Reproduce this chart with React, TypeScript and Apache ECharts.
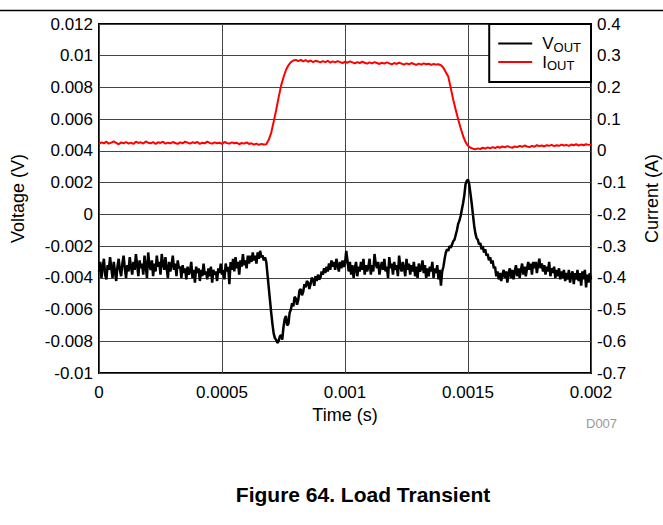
import React, { useEffect, useRef } from "react";
import * as echarts from "echarts";

// Sampling steps of the scope traces (s)
const VOUT_STEP = 0.000005;
const IOUT_STEP = 0.00001;

// Output voltage, in mV, one value per VOUT_STEP from 0 to 0.002 s
const voutMv = [
  -3.6, -3.0, -4.0, -3.3, -2.8, -3.8, -4.1, -3.2, -3.5, -2.7,
  -3.4, -4.0, -3.0, -3.6, -4.2, -3.3, -2.8, -3.5, -3.9, -3.1,
  -2.6, -3.4, -4.0, -3.2, -3.6, -2.7, -3.3, -3.8, -3.0, -3.5,
  -2.5, -3.2, -3.9, -2.9, -3.4, -3.1, -3.8, -2.6, -3.3, -4.0,
  -2.4, -3.2, -3.5, -2.9, -3.9, -3.1, -3.6, -2.6, -3.3, -3.0,
  -3.8, -2.5, -3.1, -3.5, -2.7, -3.4, -4.0, -3.0, -3.6, -3.2,
  -2.6, -3.5, -3.1, -3.9, -2.9, -3.4, -3.3, -4.0, -3.2, -3.7,
  -3.4, -4.1, -3.3, -3.8, -3.6, -3.0, -4.0, -3.5, -4.3, -3.3,
  -3.7, -3.4, -4.2, -3.5, -3.9, -3.1, -3.8, -3.6, -4.1, -3.4,
  -3.9, -3.3, -4.3, -3.5, -3.8, -3.6, -4.2, -3.4, -3.7, -3.1,
  -3.8, -3.5, -4.1, -3.1, -3.6, -3.3, -4.4, -3.0, -3.5, -2.8,
  -3.6, -2.7, -3.4, -3.0, -3.8, -2.9, -3.3, -2.5, -3.2, -2.9,
  -3.4, -2.6, -3.1, -2.6, -3.0, -2.4, -2.9, -2.6, -3.1, -2.4,
  -2.8, -2.3, -2.7, -2.6, -2.9, -2.7, -3.0, -3.8, -4.6, -5.4,
  -6.2, -6.9, -7.5, -7.8, -7.9, -8.1, -8.0, -7.7, -7.6, -7.9,
  -7.1, -6.6, -6.4, -7.0, -6.9, -6.2, -6.0, -5.6, -5.8, -5.2,
  -5.3, -5.7, -5.4, -4.8, -4.7, -5.1, -4.9, -4.4, -4.6, -4.2,
  -4.3, -4.7, -4.4, -4.0, -4.1, -4.5, -3.9, -4.2, -3.8, -4.1,
  -4.0, -3.6, -3.8, -3.4, -3.7, -3.3, -3.6, -3.1, -3.5, -2.9,
  -3.3, -3.0, -3.5, -2.8, -3.2, -3.6, -3.0, -3.4, -2.9, -3.3,
  -3.1, -2.3, -2.9, -3.6, -3.0, -3.8, -3.2, -4.0, -3.4, -3.0,
  -3.9, -3.3, -3.6, -3.0, -3.5, -2.8, -3.8, -3.2, -3.6, -3.3,
  -2.8, -3.8, -3.2, -3.6, -2.5, -3.1, -3.4, -3.0, -3.8, -3.3,
  -3.0, -3.5, -2.8, -3.6, -3.3, -4.0, -2.7, -3.4, -3.1, -3.8,
  -3.0, -3.5, -3.2, -3.9, -2.6, -3.3, -3.6, -3.0, -3.4, -3.9,
  -2.8, -3.5, -3.1, -3.8, -3.2, -3.6, -3.0, -3.9, -3.3, -4.0,
  -3.1, -3.6, -3.4, -2.9, -3.7, -3.2, -4.0, -3.4, -3.9, -3.3,
  -3.6, -3.0, -4.0, -3.4, -3.7, -3.2, -4.1, -3.5, -4.5, -3.6,
  -3.3, -2.8, -2.4, -2.2, -2.3, -2.0, -2.1, -1.9, -1.7, -1.6,
  -1.3, -1.0, -0.6, -0.4, -0.1, 0.3, 0.7, 1.2, 1.9, 2.1,
  2.2, 1.9, 1.3, 0.7, 0.0, -0.7, -1.2, -1.5, -1.6, -1.9,
  -1.8, -2.2, -2.0, -2.4, -2.2, -2.6, -2.5, -2.9, -2.7, -3.1,
  -2.9, -3.4, -3.3, -3.9, -3.6, -4.1, -3.7, -4.2, -3.8, -3.5,
  -4.0, -3.6, -4.3, -3.7, -3.4, -4.0, -3.5, -4.1, -3.6, -3.2,
  -3.9, -3.4, -4.0, -3.5, -3.1, -3.8, -3.3, -3.9, -3.4, -3.0,
  -3.5, -3.1, -3.8, -3.0, -3.4, -3.0, -3.7, -3.2, -2.8, -3.4,
  -3.1, -3.6, -3.2, -3.8, -3.3, -3.6, -3.0, -3.9, -3.4, -3.7,
  -3.3, -4.0, -3.5, -3.9, -3.4, -4.1, -3.6, -4.0, -3.5, -4.2,
  -3.7, -4.1, -3.5, -4.3, -3.8, -3.6, -4.4, -3.7, -4.1, -3.5,
  -4.2, -3.7, -4.5, -3.6, -4.1, -3.5, -4.6, -3.8, -4.3, -3.7,
  -4.1,
];

// Output current, in A, one value per IOUT_STEP from 0 to 0.002 s
const ioutA = [
  0.022, 0.027, 0.024, 0.029, 0.023, 0.026, 0.030, 0.025, 0.021, 0.027,
  0.024, 0.028, 0.023, 0.026, 0.022, 0.029, 0.025, 0.027, 0.023, 0.030,
  0.026, 0.024, 0.028, 0.022, 0.027, 0.025, 0.029, 0.023, 0.026, 0.024,
  0.028, 0.025, 0.022, 0.027, 0.024, 0.029, 0.026, 0.023, 0.027, 0.025,
  0.028, 0.022, 0.026, 0.024, 0.029, 0.025, 0.023, 0.027, 0.024, 0.026,
  0.022, 0.028, 0.025, 0.023, 0.027, 0.024, 0.026, 0.021, 0.025, 0.023,
  0.027, 0.022, 0.024, 0.020, 0.023, 0.019, 0.022, 0.020, 0.021, 0.035,
  0.057, 0.092, 0.128, 0.168, 0.205, 0.232, 0.255, 0.270, 0.280, 0.285,
  0.287, 0.283, 0.287, 0.282, 0.286, 0.281, 0.285, 0.280, 0.284, 0.282,
  0.279, 0.283, 0.280, 0.284, 0.278, 0.282, 0.279, 0.283, 0.280, 0.277,
  0.281, 0.278, 0.282, 0.279, 0.276, 0.280, 0.277, 0.281, 0.278, 0.275,
  0.279, 0.276, 0.280, 0.277, 0.274, 0.278, 0.275, 0.279, 0.276, 0.273,
  0.277, 0.274, 0.278, 0.275, 0.272, 0.276, 0.273, 0.277, 0.274, 0.271,
  0.275, 0.272, 0.276, 0.273, 0.275, 0.271, 0.274, 0.272, 0.273, 0.270,
  0.262, 0.248, 0.234, 0.198, 0.161, 0.130, 0.100, 0.072, 0.047, 0.028,
  0.016, 0.010, 0.007, 0.005, 0.008, 0.006, 0.010, 0.007, 0.011, 0.008,
  0.012, 0.009, 0.013, 0.010, 0.014, 0.011, 0.015, 0.012, 0.010, 0.014,
  0.012, 0.016, 0.013, 0.017, 0.014, 0.012, 0.016, 0.013, 0.018, 0.015,
  0.017, 0.014, 0.018, 0.016, 0.019, 0.015, 0.018, 0.016, 0.020, 0.017,
  0.019, 0.016, 0.020, 0.018, 0.021, 0.017, 0.020, 0.018, 0.021, 0.019,
  0.020,
];

// Axis ranges and ticks
const timeAxis = { min: 0, max: 0.002, interval: 0.0005 };
const voltageAxis = { min: -0.01, max: 0.012, interval: 0.002 };
const currentAxis = { min: -0.7, max: 0.4, interval: 0.1 };

const seriesNames = ["VOUT", "IOUT"];
const caption = "Figure 64. Load Transient";
const docId = "D007";

const FONT = "'Liberation Sans', Arial, Helvetica, sans-serif";

const fmt = (v: number) => String(parseFloat(v.toFixed(6)));

export default function App() {
  const ref = useRef<HTMLDivElement>(null);

  useEffect(() => {
    if (!ref.current) return;
    const chart = echarts.init(ref.current, undefined, { renderer: "svg" });

    const voutData = voutMv.map((v, i) => [i * VOUT_STEP, v / 1000]);
    const ioutData = ioutA.map((v, i) => [i * IOUT_STEP, v]);

    const labelStyle = { color: "#000", fontSize: 17, fontFamily: FONT };
    const nameStyle = { color: "#000", fontSize: 18, fontFamily: FONT };
    const gridLine = { show: true, lineStyle: { color: "#444", width: 1 } };

    chart.setOption({
      animation: false,
      backgroundColor: "#fff",
      textStyle: { fontFamily: FONT },
      grid: {
        left: 99,
        right: 72,
        top: 24,
        bottom: 152,
        containLabel: false,
        outerBoundsMode: "none",
        show: true,
        borderColor: "#000",
        borderWidth: 2,
        backgroundColor: "transparent",
      },
      legend: {
        data: seriesNames,
        right: 72,
        top: 24,
        orient: "vertical",
        icon: "rect",
        itemWidth: 34,
        itemHeight: 2,
        itemGap: 0,
        padding: [11, 10, 10, 9],
        backgroundColor: "#fff",
        borderColor: "#000",
        borderWidth: 2,
        borderRadius: 0,
        formatter: (name: string) => `{m|${name.charAt(0)}}{s|${name.slice(1)}}`,
        textStyle: {
          color: "#000",
          fontFamily: FONT,
          rich: {
            m: { fontSize: 17, lineHeight: 20, verticalAlign: "middle", fontFamily: FONT, color: "#000", padding: [0, 0, 0, 5] },
            s: { fontSize: 13, lineHeight: 15, verticalAlign: "bottom", fontFamily: FONT, color: "#000" },
          },
        },
        z: 10,
      },
      xAxis: {
        type: "value",
        min: timeAxis.min,
        max: timeAxis.max,
        interval: timeAxis.interval,
        name: "Time (s)",
        nameLocation: "middle",
        nameGap: 31,
        nameTextStyle: nameStyle,
        axisLine: { show: false },
        axisTick: { show: false },
        axisLabel: { ...labelStyle, margin: 11, formatter: fmt },
        splitLine: gridLine,
      },
      yAxis: [
        {
          type: "value",
          position: "left",
          min: voltageAxis.min,
          max: voltageAxis.max,
          interval: voltageAxis.interval,
          name: "Voltage (V)",
          nameLocation: "middle",
          nameGap: 72,
          nameRotate: 90,
          nameTextStyle: nameStyle,
          axisLine: { show: false },
          axisTick: { show: false },
          axisLabel: { ...labelStyle, margin: 6, formatter: fmt },
          splitLine: gridLine,
        },
        {
          type: "value",
          position: "right",
          min: currentAxis.min,
          max: currentAxis.max,
          interval: currentAxis.interval,
          name: "Current (A)",
          nameLocation: "middle",
          nameGap: 52,
          nameRotate: 90,
          nameTextStyle: nameStyle,
          axisLine: { show: false },
          axisTick: { show: false },
          axisLabel: { ...labelStyle, margin: 6, formatter: fmt },
          splitLine: { show: false },
        },
      ],
      series: [
        {
          name: seriesNames[0],
          type: "line",
          yAxisIndex: 0,
          data: voutData,
          showSymbol: false,
          symbol: "none",
          lineStyle: { color: "#000", width: 2.5 },
          itemStyle: { color: "#000" },
          z: 3,
        },
        {
          name: seriesNames[1],
          type: "line",
          yAxisIndex: 1,
          data: ioutData,
          showSymbol: false,
          symbol: "none",
          lineStyle: { color: "#ff0000", width: 2 },
          itemStyle: { color: "#ff0000" },
          z: 2,
        },
      ],
      graphic: [
        {
          type: "line",
          shape: { x1: 0, y1: 10.5, x2: 663, y2: 10.5 },
          style: { stroke: "#000", lineWidth: 1.5 },
        },
        {
          type: "text",
          x: 586,
          y: 423,
          style: {
            text: docId,
            fill: "#999",
            fontSize: 13,
            fontFamily: FONT,
            verticalAlign: "middle",
          },
        },
        {
          type: "text",
          x: 363,
          y: 494,
          style: {
            text: caption,
            fill: "#000",
            fontSize: 21,
            fontWeight: "bold",
            fontFamily: FONT,
            align: "center",
            verticalAlign: "middle",
          },
        },
      ],
    });

    return () => chart.dispose();
  }, []);

  return (
    <div
      ref={ref}
      style={{ position: "fixed", left: 0, top: 0, width: 663, height: 525, background: "#fff" }}
    />
  );
}
